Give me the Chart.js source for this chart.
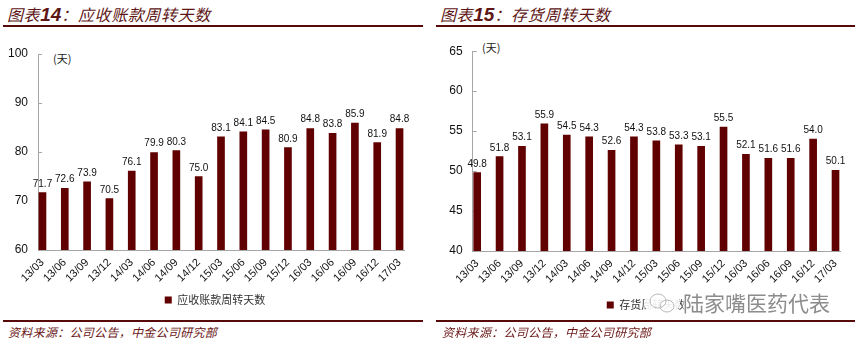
<!DOCTYPE html>
<html>
<head>
<meta charset="utf-8">
<script src="https://cdn.jsdelivr.net/npm/chart.js@4/dist/chart.umd.min.js"></script>
<style>
  body { margin: 0; width: 858px; height: 340px; background: #fff; position: relative; overflow: hidden;
         font-family: "Noto Sans CJK SC", sans-serif; }
  .title { position: absolute; top: 4px; font-size: 16px; line-height: 20px; font-style: italic;
           color: #5e1616; white-space: nowrap; letter-spacing: 0.6px; }
  .title b { font-family: "Liberation Sans", Arial, sans-serif; font-size: 19px; letter-spacing: 0; }
  .rule { position: absolute; height: 1.5px; background: #560a0a; }
  .src { position: absolute; top: 324px; font-size: 12px; line-height: 16px; font-style: italic;
         color: #6a1616; letter-spacing: 0.3px; white-space: nowrap; }
  .unit { position: absolute; font-size: 11px; line-height: 12px; color: #222; }
  .box { position: absolute; top: 30px; }
  .mark { position: absolute; left: 640px; top: 288px; width: 200px; height: 30px; }
  .mark span { position: absolute; left: 43px; top: 1px; font-size: 21px; line-height: 26px; color: #8c8c8c;
               white-space: nowrap; text-shadow: 0 0 3px #fff, 0 0 3px #fff, 0 0 3px #fff; }
</style>
</head>
<body>

<div class="title" style="left:7px">图表<b>14</b>：应收账款周转天数</div>
<div class="title" style="left:440px">图表<b>15</b>：存货周转天数</div>
<div class="rule" style="left:3px; top:25px; width:420px"></div>
<div class="rule" style="left:436px; top:25px; width:419px"></div>

<div class="unit" style="left:53px; top:52px">(天)</div>
<div class="unit" style="left:482px; top:41px">(天)</div>

<div class="box" style="left:0px"><canvas id="receivable" width="430" height="290"></canvas></div>
<div class="box" style="left:430px"><canvas id="inventory" width="428" height="291"></canvas></div>

<div class="rule" style="left:3px; top:320px; width:420px"></div>
<div class="rule" style="left:436px; top:320px; width:419px"></div>
<div class="src" style="left:8px">资料来源：公司公告，中金公司研究部</div>
<div class="src" style="left:442px">资料来源：公司公告，中金公司研究部</div>

<div class="mark">
  <svg width="44" height="30" viewBox="0 0 44 30">
    <ellipse cx="22" cy="15" rx="18" ry="13" fill="#fff" fill-opacity="0.9"/>
    <ellipse cx="18" cy="13" rx="8" ry="7" fill="none" stroke="#b8b8b8" stroke-width="1"/>
    <ellipse cx="27" cy="18" rx="7" ry="6" fill="none" stroke="#b8b8b8" stroke-width="1"/>
  </svg>
  <span>陆家嘴医药代表</span>
</div>

<script>
const periods = ['13/03', '13/06', '13/09', '13/12', '14/03', '14/06', '14/09', '14/12', '15/03',
                 '15/06', '15/09', '15/12', '16/03', '16/06', '16/09', '16/12', '17/03'];
const receivableDays = [71.7, 72.6, 73.9, 70.5, 76.1, 79.9, 80.3, 75.0, 83.1,
                        84.1, 84.5, 80.9, 84.8, 83.8, 85.9, 81.9, 84.8];
const inventoryDays = [49.8, 51.8, 53.1, 55.9, 54.5, 54.3, 52.6, 54.3, 53.8,
                       53.3, 53.1, 55.5, 52.1, 51.6, 51.6, 54.0, 50.1];
const receivableTicks = [60, 70, 80, 90, 100];
const inventoryTicks = [40, 45, 50, 55, 60, 65];

const BAR = '#600000';
const AXIS = '#a6a6a6';
const NUM_FONT = '"Liberation Sans", Arial, sans-serif';

// value printed above every bar
const valueLabels = {
  id: 'valueLabels',
  afterDatasetsDraw(chart) {
    const ctx = chart.ctx;
    const ds = chart.data.datasets[0];
    ctx.save();
    ctx.font = '10px ' + NUM_FONT;
    ctx.fillStyle = '#111';
    ctx.textAlign = 'center';
    ctx.textBaseline = 'alphabetic';
    chart.getDatasetMeta(0).data.forEach((bar, i) => {
      ctx.fillText(ds.data[i].y.toFixed(1), bar.x, bar.y - 6);
    });
    ctx.restore();
  }
};

function drawBars(id, label, values, ticks, frame) {
  const step = ticks[1] - ticks[0];
  return new Chart(document.getElementById(id), {
    type: 'bar',
    data: {
      datasets: [{
        label: label,
        data: values.map((v, i) => ({ x: i, y: v })),
        backgroundColor: BAR,
        barThickness: 7
      }]
    },
    options: {
      responsive: false,
      animation: false,
      layout: { padding: { top: frame.top, left: frame.left, right: 0, bottom: frame.bottom } },
      scales: {
        x: {
          type: 'linear',
          min: -0.2,
          max: periods.length - 0.8,
          offset: false,
          grid: { display: false, drawTicks: false },
          border: { color: AXIS, width: 1 },
          ticks: {
            stepSize: 1, autoSkip: false, includeBounds: false,
            minRotation: 45, maxRotation: 45, padding: 6,
            color: '#111', font: { family: NUM_FONT, size: 11 },
            callback: v => periods[v]
          },
          afterFit: s => { s.height = frame.xHeight; }
        },
        y: {
          min: ticks[0],
          max: ticks[ticks.length - 1],
          grid: { drawOnChartArea: false, tickLength: -4, color: AXIS },
          border: { color: AXIS, width: 1 },
          ticks: { stepSize: step, padding: 14, color: '#111', font: { family: NUM_FONT, size: 12 } },
          afterFit: s => { s.width = frame.yWidth; }
        },
        gap: {
          position: 'right',
          grid: { display: false },
          border: { display: false },
          ticks: { display: false },
          afterFit: s => { s.width = frame.gap; }
        }
      },
      plugins: {
        legend: {
          position: 'bottom',
          labels: {
            boxWidth: 7, boxHeight: 7, padding: 10, color: '#333',
            font: { family: '"Noto Sans CJK SC", sans-serif', size: 11 }
          }
        },
        tooltip: { enabled: false }
      }
    },
    plugins: [valueLabels]
  });
}

drawBars('receivable', '应收账款周转天数', receivableDays, receivableTicks,
         { top: 24, left: 0, bottom: 4.5, yWidth: 38, gap: 26, xHeight: 34.5 });
drawBars('inventory', '存货周转天数', inventoryDays, inventoryTicks,
         { top: 13, left: 4, bottom: 0.5, yWidth: 38.7, gap: 18, xHeight: 38.5 });
</script>
</body>
</html>
